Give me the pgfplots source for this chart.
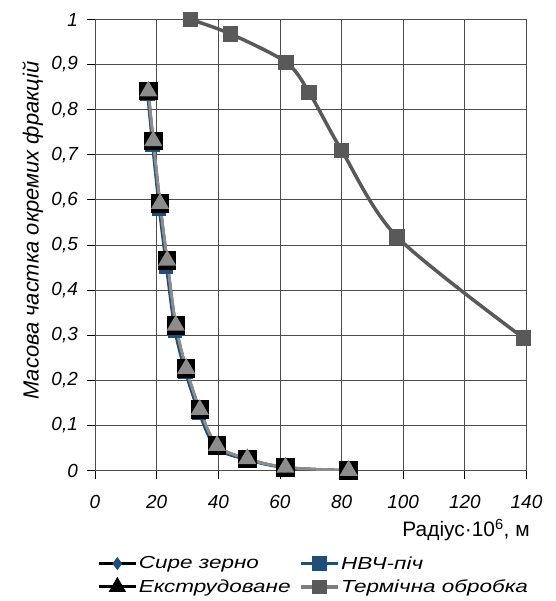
\documentclass[border=0pt]{standalone}
\usepackage{fontspec}
\setmainfont{Liberation Sans}
\newfontfamily\legfont{Liberation Sans}[FakeStretch=1.29]
\usepackage{pgfplots}
\pgfplotsset{compat=1.18}
\definecolor{nvch}{HTML}{1F4E79}
\definecolor{term}{HTML}{595959}
\definecolor{termline}{HTML}{7F7F7F}
\definecolor{ext}{HTML}{8C8C8C}
\begin{document}
\begin{tikzpicture}
\begin{axis}[
  at={(95bp,130.5bp)}, anchor=south west,
  width=431.5bp, height=451bp, scale only axis,
  xmin=0, xmax=140, ymin=0, ymax=1,
  xtick={0,20,40,60,80,100,120,140},
  ytick={0,0.1,0.2,0.3,0.4,0.5,0.6,0.7,0.8,0.9,1},
  grid=major, major grid style={black!70, line width=0.8bp},
  axis line style={draw=none},
  tick pos=left, tick align=outside, major tick length=8bp,
  tick style={black, line width=0.8bp},
  /pgf/number format/use comma,
  /pgf/number format/assume math mode=true,
  tick label style={font=\fontsize{19}{22}\selectfont\itshape, inner sep=0pt},
  xticklabel style={yshift=-17bp},
  yticklabel style={xshift=-9bp},
  ylabel={Масова частка окремих фракцій},
  ylabel style={font=\fontsize{22}{26}\selectfont\itshape, at={(axis description cs:-0.144,0.532)}, anchor=center},
  xlabel={Радіус·10\textsuperscript{6}, м},
  xlabel style={font=\fontsize{21}{24}\selectfont, inner sep=0pt, at={(axis description cs:1.008,-0.132)}, anchor=east},
  legend columns=2,
  legend cell align=left,
  legend style={draw=none, fill=none, inner sep=0pt, at={(axis description cs:0.005,-0.187)}, anchor=north west,
    font=\fontsize{17.5}{20}\legfont\itshape, row sep=6bp,
    nodes={inner sep=1.5bp},
    /tikz/every even column/.append style={column sep=7bp}},
  legend image code/.code={\draw[mark repeat=2,mark phase=2,#1] plot coordinates {(0bp,0bp) (18.5bp,0bp) (37bp,0bp)};},
]
\addplot[forget plot, nvch, line width=2.5bp, smooth, mark=square*, mark size=6bp, mark options={fill=nvch, draw=nvch}] coordinates {
(17.0,0.835) (18.6,0.722) (20.8,0.580) (23.1,0.452) (25.9,0.310) (29.3,0.218) (33.7,0.128) (39.2,0.050) (49.2,0.024) (61.6,0.006) (82.2,0.0)};
\addplot[forget plot, black, line width=2.5bp, smooth, mark=square*, mark size=8bp] coordinates {
(17.3,0.841) (18.9,0.731) (21.1,0.592) (23.4,0.466) (26.2,0.322) (29.6,0.226) (34.0,0.135) (39.6,0.055) (49.4,0.026) (61.8,0.007) (82.3,0.0)};
\addplot[forget plot, ext, line width=3bp, smooth, mark=triangle*, mark size=7.5bp, mark options={fill=ext, draw=ext}] coordinates {
(17.3,0.841) (18.9,0.731) (21.1,0.592) (23.4,0.466) (26.2,0.322) (29.6,0.226) (34.0,0.135) (39.6,0.055) (49.4,0.026) (61.8,0.007) (82.3,0.0)};
\addplot[forget plot, term, line width=3.5bp, smooth, mark=square*, mark size=6bp, mark options={fill=term, draw=term}] coordinates {
(31,1.0) (44,0.968) (62,0.905) (69.5,0.838) (80,0.710) (98,0.518) (139,0.294)};
\addlegendimage{black, line width=2.5bp, mark=diamond*, mark size=4.5bp, mark options={fill=nvch, draw=nvch}}
\addlegendentry{Сире зерно}
\addlegendimage{nvch, line width=3.5bp, mark=square*, mark size=5.5bp}
\addlegendentry{НВЧ-піч}
\addlegendimage{black, line width=3bp, mark=triangle*, mark size=7bp}
\addlegendentry{Екструдоване}
\addlegendimage{termline, line width=3.5bp, mark=square*, mark size=5.5bp, mark options={fill=term, draw=term}}
\addlegendentry{Термічна обробка}
\end{axis}
\pgfresetboundingbox
\path[use as bounding box] (0,0) rectangle (556bp,601bp);
\end{tikzpicture}
\end{document}
